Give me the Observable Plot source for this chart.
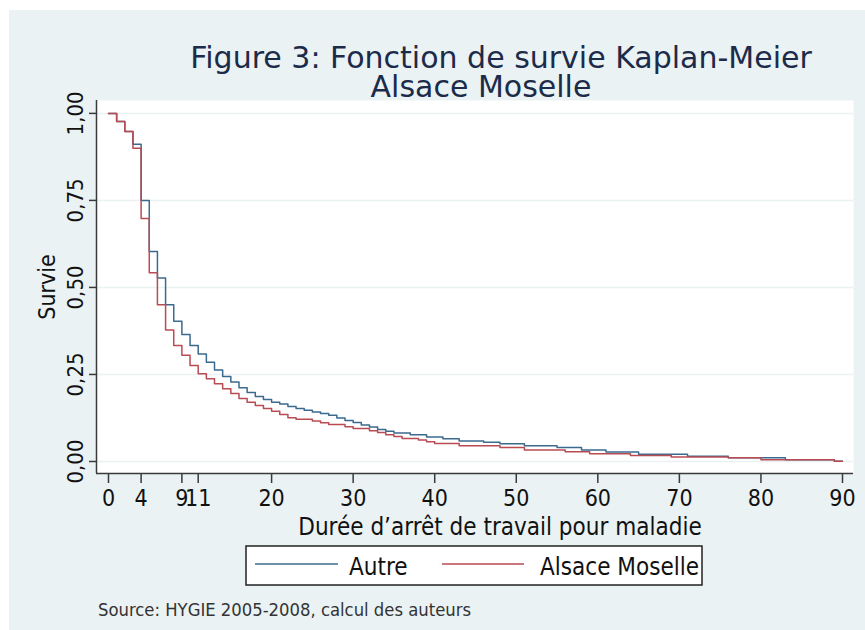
<!DOCTYPE html>
<html><head><meta charset="utf-8">
<script src="https://cdn.jsdelivr.net/npm/d3@7"></script>
<script src="https://cdn.jsdelivr.net/npm/@observablehq/plot@0.6"></script>
<style>
body{margin:0;background:#fff;}
#wrap{position:relative;width:865px;height:630px;overflow:hidden;}
#panel{position:absolute;left:9px;top:10px;right:0;bottom:0;background:#eaf2f3;}
#chart{position:absolute;left:0;top:0;}
</style></head><body><div id="wrap"><div id="panel"></div><div id="chart"></div></div>
<script>
// Kaplan-Meier survival estimates (step changes)
const daysAutre = [0,1,2,3,4,5,6,7,8,9,10,11,12,13,14,15,16,17,18,19,20,21,22,23,24,25,26,27,28,29,30,31,32,33,34,35,37,39,41,43,46,48,51,55,58,61,65,71,76,83,89,90];
const survAutre = [1.0,0.977,0.948,0.911,0.750,0.603,0.527,0.450,0.403,0.365,0.333,0.309,0.285,0.263,0.244,0.228,0.212,0.198,0.187,0.178,0.170,0.165,0.158,0.152,0.147,0.142,0.138,0.133,0.125,0.118,0.112,0.105,0.099,0.092,0.087,0.082,0.077,0.070,0.065,0.059,0.055,0.051,0.045,0.040,0.033,0.027,0.021,0.015,0.011,0.005,0.001,0.001];
const daysAlsace = [0,1,2,3,4,5,6,7,8,9,10,11,12,13,14,15,16,17,18,19,20,21,22,23,25,26,27,29,30,32,33,34,35,36,38,39,40,43,48,51,56,59,64,69,76,80,89,90];
const survAlsace = [1.0,0.977,0.948,0.900,0.698,0.542,0.450,0.378,0.333,0.305,0.276,0.252,0.238,0.223,0.209,0.195,0.181,0.170,0.161,0.152,0.144,0.135,0.126,0.121,0.116,0.111,0.106,0.100,0.095,0.088,0.083,0.077,0.072,0.066,0.062,0.057,0.052,0.045,0.040,0.033,0.028,0.022,0.017,0.013,0.011,0.005,0.001,0.001];
const groups = ["Autre", "Alsace Moselle"];
const colors = ["#3b6a8e", "#b94b53"];
const xTicks = [0,4,9,11,20,30,40,50,60,70,80,90];
const yTicks = [0,0.25,0.5,0.75,1];
const titleLines = ["Figure 3: Fonction de survie Kaplan-Meier", "Alsace Moselle"];
const xLabel = "Durée d’arrêt de travail pour maladie";
const yLabel = "Survie";
const source = "Source: HYGIE 2005-2008, calcul des auteurs";

const XDOM = [-1.47, 91.35];
const YDOM = [-0.0345, 1.037];
const FONT = "'DejaVu Sans Condensed', 'DejaVu Sans', sans-serif";

const rows = [
  ...daysAutre.map((d, i) => ({day: d, surv: survAutre[i], group: groups[0]})),
  ...daysAlsace.map((d, i) => ({day: d, surv: survAlsace[i], group: groups[1]}))
];
const fmt = d => d.toFixed(2).replace(".", ",");

const chart = Plot.plot({
  width: 865, height: 630,
  marginLeft: 96, marginRight: 12, marginTop: 100, marginBottom: 157,
  style: {fontFamily: FONT, fontSize: "23px", color: "#111", background: "transparent"},
  x: {domain: XDOM, axis: null, label: null},
  y: {domain: YDOM, axis: null, label: null},
  color: {domain: groups, range: colors},
  marks: [
    Plot.frame({fill: "white", stroke: null}),
    Plot.gridY(yTicks, {stroke: "#eaf2f3", strokeOpacity: 1, strokeWidth: 1.5}),
    Plot.line(rows, {x: "day", y: "surv", z: "group", stroke: "group", curve: "step-after", strokeWidth: 1.5}),
    Plot.ruleX([XDOM[0]], {stroke: "#3a3a3a", strokeWidth: 1.5}),
    Plot.ruleY([YDOM[0]], {stroke: "#3a3a3a", strokeWidth: 1.5}),
    Plot.axisX(xTicks, {anchor: "bottom", label: null, tickSize: 10, tickPadding: 6, stroke: "#3a3a3a", strokeWidth: 1.5, fontSize: 23, fill: "#111"}),
    Plot.axisY(yTicks, {anchor: "left", label: null, tickSize: 7, tickFormat: () => "", stroke: "#3a3a3a", strokeWidth: 1.5}),
    Plot.text(yTicks, {y: d => d, text: fmt, frameAnchor: "left", dx: -14, rotate: -90, textAnchor: "middle", lineAnchor: "bottom", fontSize: 22, fill: "#111"})
  ]
});
document.getElementById("chart").appendChild(chart);

const svg = d3.select(chart);
const g = svg.append("g");
g.append("text").attr("x", 501).attr("y", 68).attr("text-anchor", "middle")
  .style("font-family", "'DejaVu Sans', sans-serif").style("font-size", "30px").attr("fill", "#1c2b4a").text(titleLines[0]);
g.append("text").attr("x", 481).attr("y", 97).attr("text-anchor", "middle")
  .style("font-family", "'DejaVu Sans', sans-serif").style("font-size", "30px").attr("fill", "#1c2b4a").text(titleLines[1]);
g.append("text").attr("x", 500).attr("y", 535).attr("text-anchor", "middle")
  .style("font-size", "24px").attr("fill", "#111").text(xLabel);
g.append("text").attr("transform", "translate(55,287) rotate(-90)").attr("text-anchor", "middle")
  .style("font-size", "23px").attr("fill", "#111").text(yLabel);
// legend
g.append("rect").attr("x", 246).attr("y", 546).attr("width", 456).attr("height", 39)
  .attr("fill", "white").attr("stroke", "#222").attr("stroke-width", 1.5);
g.append("line").attr("x1", 255).attr("x2", 338).attr("y1", 564).attr("y2", 564).attr("stroke", colors[0]).attr("stroke-width", 1.5);
g.append("text").attr("x", 349).attr("y", 575).attr("text-anchor", "start").style("font-size", "24px").attr("fill", "#111").text(groups[0]);
g.append("line").attr("x1", 442).attr("x2", 524).attr("y1", 564).attr("y2", 564).attr("stroke", colors[1]).attr("stroke-width", 1.5);
g.append("text").attr("x", 699).attr("y", 575).attr("text-anchor", "end").style("font-size", "24px").attr("fill", "#111").text(groups[1]);
g.append("text").attr("x", 98).attr("y", 616).attr("text-anchor", "start").style("font-size", "18.3px").attr("fill", "#333").text(source);
</script></body></html>
